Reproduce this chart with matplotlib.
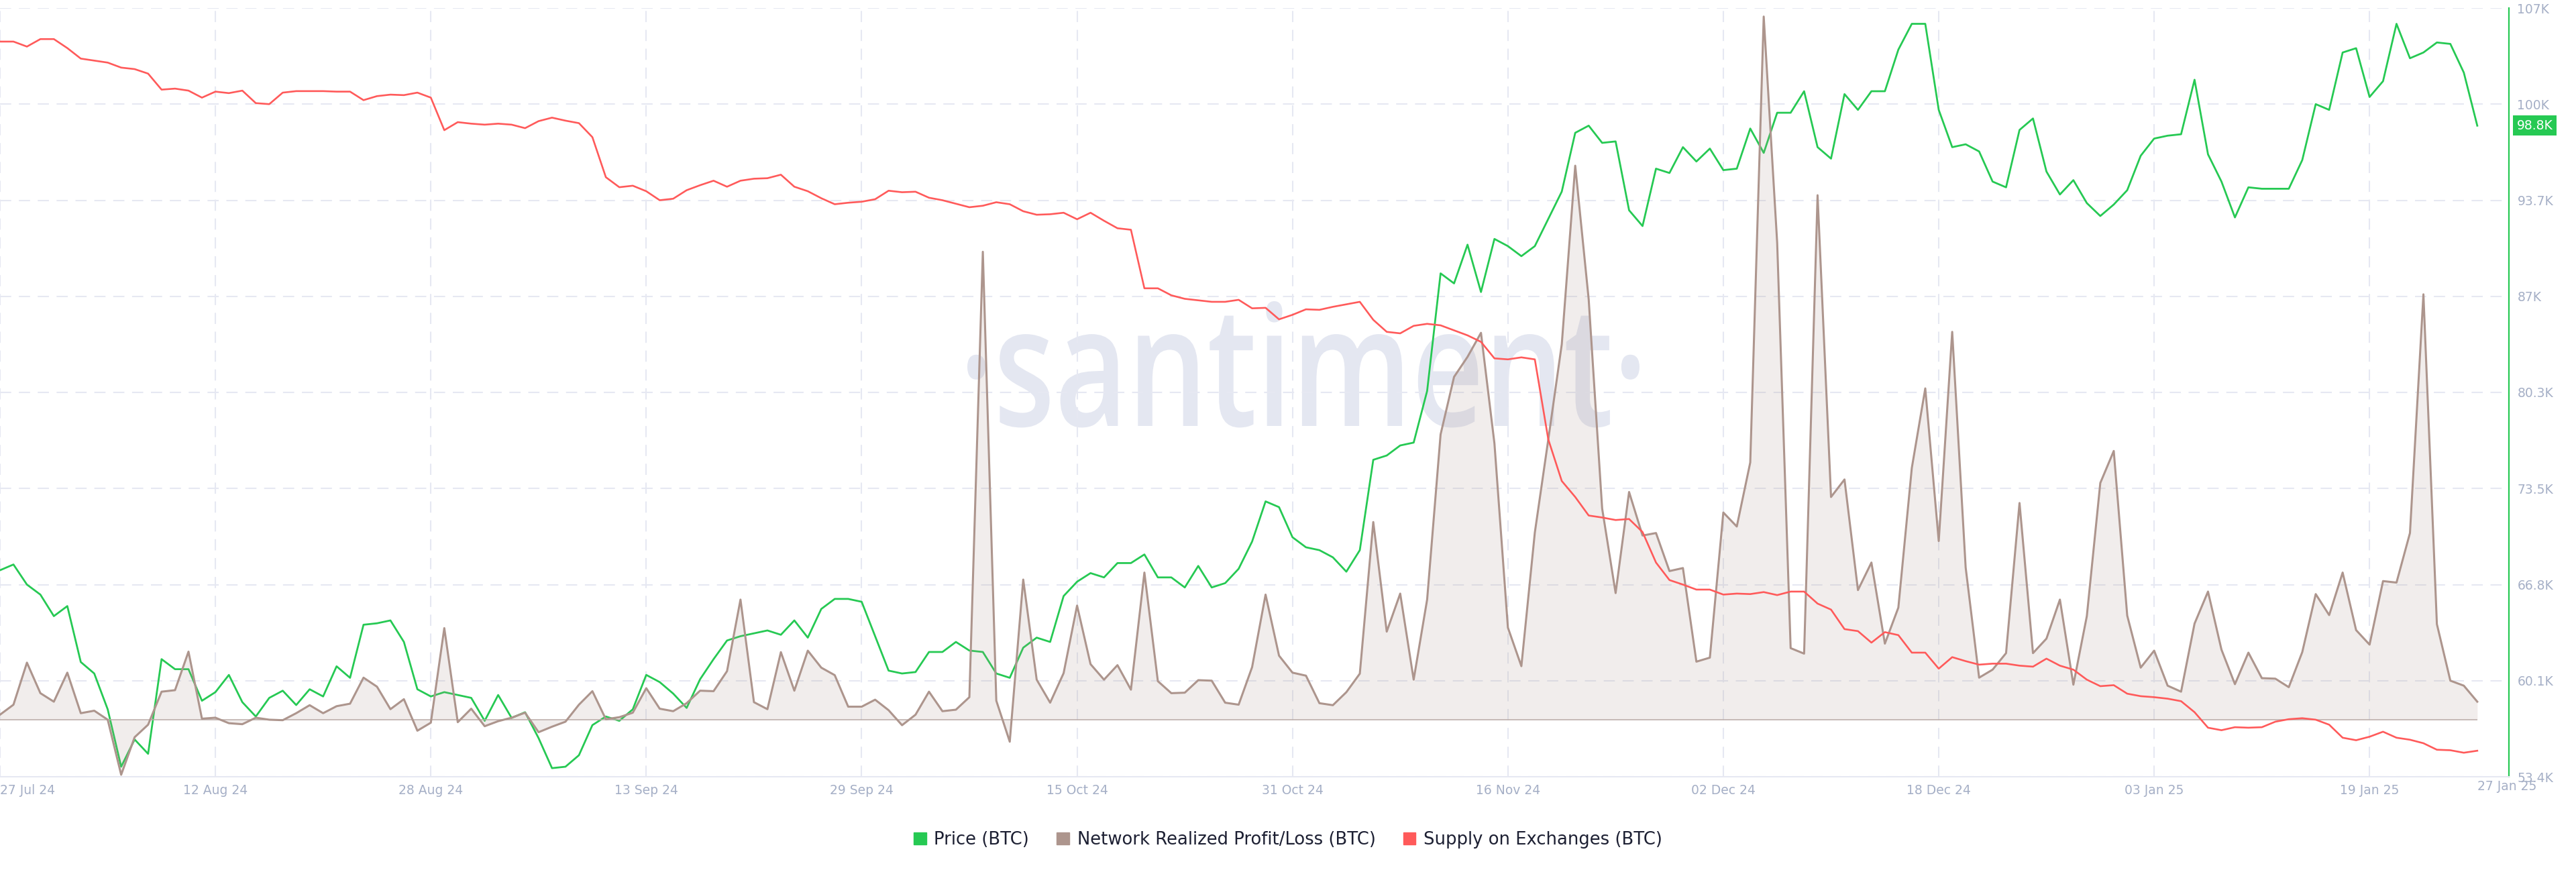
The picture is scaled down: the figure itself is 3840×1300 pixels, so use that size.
import matplotlib
matplotlib.use('Agg')
import matplotlib.pyplot as plt
import matplotlib.transforms as mtransforms
from matplotlib.patches import Patch, PathPatch
from matplotlib.textpath import TextPath
from matplotlib.font_manager import FontProperties
import numpy as np
import pandas as pd

start_date = '2024-07-27'

# BTC price, thousands of USD (daily)
price_k = [67.8, 68.2, 66.8, 66.1, 64.6, 65.3, 61.4, 60.6, 58.1, 54.1,
           56.0, 55.0, 61.6, 60.9, 60.9, 58.7, 59.3, 60.5, 58.6, 57.6,
           58.9, 59.4, 58.4, 59.5, 59.0, 61.1, 60.3, 64.0, 64.1, 64.3,
           62.8, 59.5, 59.0, 59.3, 59.1, 58.9, 57.3, 59.1, 57.5, 57.9,
           56.1, 54.0, 54.1, 54.9, 57.0, 57.6, 57.3, 58.1, 60.5, 60.0,
           59.2, 58.2, 60.2, 61.6, 62.9, 63.2, 63.4, 63.6, 63.3, 64.3,
           63.1, 65.1, 65.8, 65.8, 65.6, 63.2, 60.8, 60.6, 60.7, 62.1,
           62.1, 62.8, 62.2, 62.1, 60.6, 60.3, 62.4, 63.1, 62.8, 66.0,
           67.0, 67.6, 67.3, 68.3, 68.3, 68.9, 67.3, 67.3, 66.6, 68.1,
           66.6, 66.9, 67.9, 69.8, 72.6, 72.2, 70.1, 69.4, 69.2, 68.7,
           67.7, 69.2, 75.5, 75.8, 76.5, 76.7, 80.3, 88.5, 87.8, 90.5,
           87.2, 90.9, 90.4, 89.7, 90.4, 92.3, 94.2, 98.3, 98.8, 97.6,
           97.7, 92.9, 91.8, 95.8, 95.5, 97.3, 96.3, 97.2, 95.7, 95.8,
           98.6, 96.9, 99.7, 99.7, 101.2, 97.3, 96.5, 101.0, 99.9, 101.2,
           101.2, 104.1, 105.9, 105.9, 99.9, 97.3, 97.5, 97.0, 94.9, 94.5,
           98.5, 99.3, 95.6, 94.0, 95.0, 93.4, 92.5, 93.3, 94.3, 96.7,
           97.9, 98.1, 98.2, 102.0, 96.8, 94.9, 92.4, 94.5, 94.4, 94.4,
           94.4, 96.4, 100.3, 99.9, 103.9, 104.2, 100.8, 101.9, 105.9, 103.5,
           103.9, 104.6, 104.5, 102.5, 98.8]

# Network realized profit/loss, thousands of BTC
nrpl_k = [1.0, 3.0, 11.4, 5.3, 3.6, 9.4, 1.3, 1.8, 0.0, -11.0,
          -3.5, -1.0, 5.6, 5.9, 13.6, 0.2, 0.4, -0.7, -0.9, 0.4,
          0.0, -0.1, 1.3, 2.9, 1.3, 2.7, 3.2, 8.4, 6.6, 2.1,
          4.1, -2.2, -0.6, 18.3, -0.5, 2.2, -1.3, -0.3, 0.4, 1.4,
          -2.5, -1.4, -0.4, 3.0, 5.7, 0.1, 0.5, 1.4, 6.3, 2.2,
          1.7, 3.3, 5.8, 5.7, 9.7, 24.0, 3.5, 2.1, 13.5, 5.8,
          13.8, 10.4, 8.9, 2.6, 2.6, 4.0, 1.9, -1.1, 1.0, 5.6,
          1.7, 2.0, 4.5, 93.5, 3.8, -4.4, 28.0, 8.0, 3.4, 9.3,
          22.8, 11.1, 8.0, 10.9, 6.0, 29.4, 7.7, 5.3, 5.4, 7.9,
          7.8, 3.4, 3.0, 10.5, 25.0, 12.8, 9.4, 8.8, 3.3, 2.9,
          5.5, 9.2, 39.5, 17.6, 25.2, 8.0, 24.0, 57.0, 68.5, 72.5,
          77.3, 55.2, 18.4, 10.7, 37.4, 56.0, 75.0, 110.7, 84.0, 42.2,
          25.3, 45.5, 36.8, 37.3, 29.7, 30.3, 11.6, 12.4, 41.4, 38.6,
          51.4, 140.5, 95.3, 14.3, 13.2, 104.8, 44.5, 48.0, 25.9, 31.4,
          15.2, 22.4, 50.3, 66.2, 35.7, 77.5, 30.4, 8.4, 10.0, 13.3,
          43.3, 13.3, 16.2, 24.0, 7.0, 20.7, 47.3, 53.7, 20.8, 10.4,
          13.8, 6.8, 5.6, 19.2, 25.6, 14.0, 7.1, 13.4, 8.3, 8.2,
          6.5, 13.5, 25.1, 20.9, 29.4, 17.9, 15.0, 27.7, 27.4, 37.3,
          85.0, 19.1, 7.8, 6.8, 3.6]

# Supply on exchanges, thousands of BTC
supply_k = [1991.5, 1991.5, 1990.5, 1992.0, 1992.0, 1990.2, 1988.1, 1987.7, 1987.3, 1986.3,
            1986.0, 1985.1, 1981.9, 1982.1, 1981.7, 1980.3, 1981.5, 1981.2, 1981.7, 1979.2,
            1979.0, 1981.3, 1981.6, 1981.6, 1981.6, 1981.5, 1981.5, 1979.8, 1980.6, 1980.9,
            1980.8, 1981.3, 1980.3, 1973.8, 1975.4, 1975.1, 1974.9, 1975.1, 1974.9, 1974.2,
            1975.6, 1976.3, 1975.7, 1975.2, 1972.4, 1964.4, 1962.4, 1962.7, 1961.6, 1959.8,
            1960.1, 1961.8, 1962.8, 1963.7, 1962.5, 1963.7, 1964.1, 1964.2, 1964.9, 1962.5,
            1961.6, 1960.2, 1959.0, 1959.3, 1959.5, 1960.0, 1961.7, 1961.4, 1961.5, 1960.3,
            1959.8, 1959.1, 1958.4, 1958.7, 1959.4, 1959.0, 1957.6, 1956.9, 1957.0, 1957.3,
            1956.0, 1957.3, 1955.7, 1954.2, 1953.9, 1942.2, 1942.2, 1940.8, 1940.1, 1939.8,
            1939.5, 1939.5, 1939.9, 1938.2, 1938.3, 1936.0, 1936.9, 1938.0, 1937.9, 1938.5,
            1939.0, 1939.5, 1935.9, 1933.5, 1933.2, 1934.7, 1935.1, 1934.8, 1933.8, 1932.8,
            1931.5, 1928.2, 1928.0, 1928.4, 1928.0, 1912.0, 1903.7, 1900.5, 1896.8, 1896.4,
            1895.9, 1896.1, 1893.5, 1887.4, 1883.9, 1883.0, 1882.0, 1882.0, 1881.0, 1881.2,
            1881.1, 1881.5, 1880.9, 1881.6, 1881.6, 1879.2, 1878.0, 1874.1, 1873.7, 1871.4,
            1873.5, 1872.9, 1869.4, 1869.4, 1866.2, 1868.5, 1867.7, 1867.0, 1867.2, 1867.2,
            1866.8, 1866.6, 1868.2, 1866.8, 1866.0, 1864.0, 1862.7, 1862.9, 1861.2, 1860.7,
            1860.5, 1860.2, 1859.7, 1857.5, 1854.4, 1853.9, 1854.5, 1854.4, 1854.5, 1855.6,
            1856.1, 1856.3, 1856.0, 1855.0, 1852.4, 1851.9, 1852.6, 1853.6, 1852.4, 1852.0,
            1851.3, 1850.0, 1849.9, 1849.4, 1849.8]

tick_dates = ['2024-07-27', '2024-08-12', '2024-08-28', '2024-09-13', '2024-09-29',
              '2024-10-15', '2024-10-31', '2024-11-16', '2024-12-02', '2024-12-18',
              '2025-01-03', '2025-01-19']
tick_labels = ['27 Jul 24', '12 Aug 24', '28 Aug 24', '13 Sep 24', '29 Sep 24',
               '15 Oct 24', '31 Oct 24', '16 Nov 24', '02 Dec 24', '18 Dec 24',
               '03 Jan 25', '19 Jan 25']
end_label = '27 Jan 25'
price_tick_labels = ['53.4K', '60.1K', '66.8K', '73.5K', '80.3K', '87K', '93.7K', '100K', '107K']

GREEN = '#26c953'
BROWN = '#ad958d'
RED = '#ff5a5a'
GRID = '#e6e8f2'
MUTED = '#a5afc6'
TEXT = '#1d2033'

dates = pd.date_range(start_date, periods=len(price_k), freq='D')

fig = plt.figure(figsize=(38.4, 13), dpi=100)
ax = fig.add_axes([0, 1 - 1158 / 1300, 3740 / 3840, 1146 / 1300])

# watermark
tp = TextPath((0, 0), '\u00b7santiment\u00b7', size=1,
              prop=FontProperties(family='Open Sans', weight=600))
ext = tp.get_extents()
wm_tr = (mtransforms.Affine2D().translate(-ext.x0, 0)
         .scale(1002 / ext.width, 249).translate(1442, 1300 - 635))
ax.add_artist(PathPatch(tp, transform=wm_tr, fc='#e4e7f1', ec='none', zorder=0.1))

# price (right axis)
ax.plot(dates, price_k, color=GREEN, lw=2.0, zorder=2)
ax.set_ylim(53.4, 107)
ax.set_xlim(dates[0], dates[0] + pd.Timedelta(days=186.35))

# network realized profit/loss (hidden axis)
ax_n = ax.twinx()
ax_n.fill_between(dates, nrpl_k, 0, color=BROWN, alpha=0.16, lw=0)
ax_n.hlines(0, dates[0], dates[-1], color='#b9aaa6', lw=1.1)
ax_n.plot(dates, nrpl_k, color=BROWN, lw=2.2)
ax_n.set_ylim(-11.4, 142.2)
ax_n.axis('off')

# supply on exchanges (hidden axis)
ax_s = ax.twinx()
ax_s.plot(dates, supply_k, color=RED, lw=1.9)
ax_s.set_ylim(1844.6, 1998.2)
ax_s.axis('off')

# axis styling (after twinx, which moves the ticks to the left)
ax.yaxis.tick_right()
ax.set_yticks(np.linspace(53.4, 107, len(price_tick_labels)))
ax.set_yticklabels(price_tick_labels)
ax.set_xticks(pd.to_datetime(tick_dates))
ax.set_xticklabels(tick_labels)
ax.set_xticks([dates[-1]], minor=True)
ax.set_xticklabels([end_label], minor=True)
ax.get_xticklabels()[0].set_ha('left')
ax.get_xticklabels(minor=True)[0].set_ha('left')
ax.tick_params(which='both', length=0, labelcolor=MUTED, labelsize=13.5)
ax.tick_params(axis='y', pad=9)
ax.tick_params(axis='x', pad=8)
ax.grid(True, which='major', color=GRID, lw=1.5, linestyle=(0, (8, 5.5)))
for side in ['top', 'left']:
    ax.spines[side].set_visible(False)
ax.spines['right'].set_color(GREEN)
ax.spines['right'].set_linewidth(1.6)
ax.spines['bottom'].set_color(GRID)
ax.spines['bottom'].set_linewidth(1.4)

ax.text(1.00305, price_k[-1], f'{price_k[-1]:.1f}K', transform=ax.get_yaxis_transform(),
        ha='left', va='center', color='white', fontsize=13.5,
        bbox=dict(boxstyle='square,pad=0.3', fc=GREEN, ec='none'))

handles = [Patch(color=GREEN, label='Price (BTC)'),
           Patch(color=BROWN, label='Network Realized Profit/Loss (BTC)'),
           Patch(color=RED, label='Supply on Exchanges (BTC)')]
fig.legend(handles=handles, loc='center', bbox_to_anchor=(0.5, 1 - 1252 / 1300), ncol=3,
           frameon=False, fontsize=18.6, handlelength=0.72, handleheight=0.72,
           handletextpad=0.45, columnspacing=1.6, labelcolor=TEXT)

fig.savefig('out.png', dpi=100)
